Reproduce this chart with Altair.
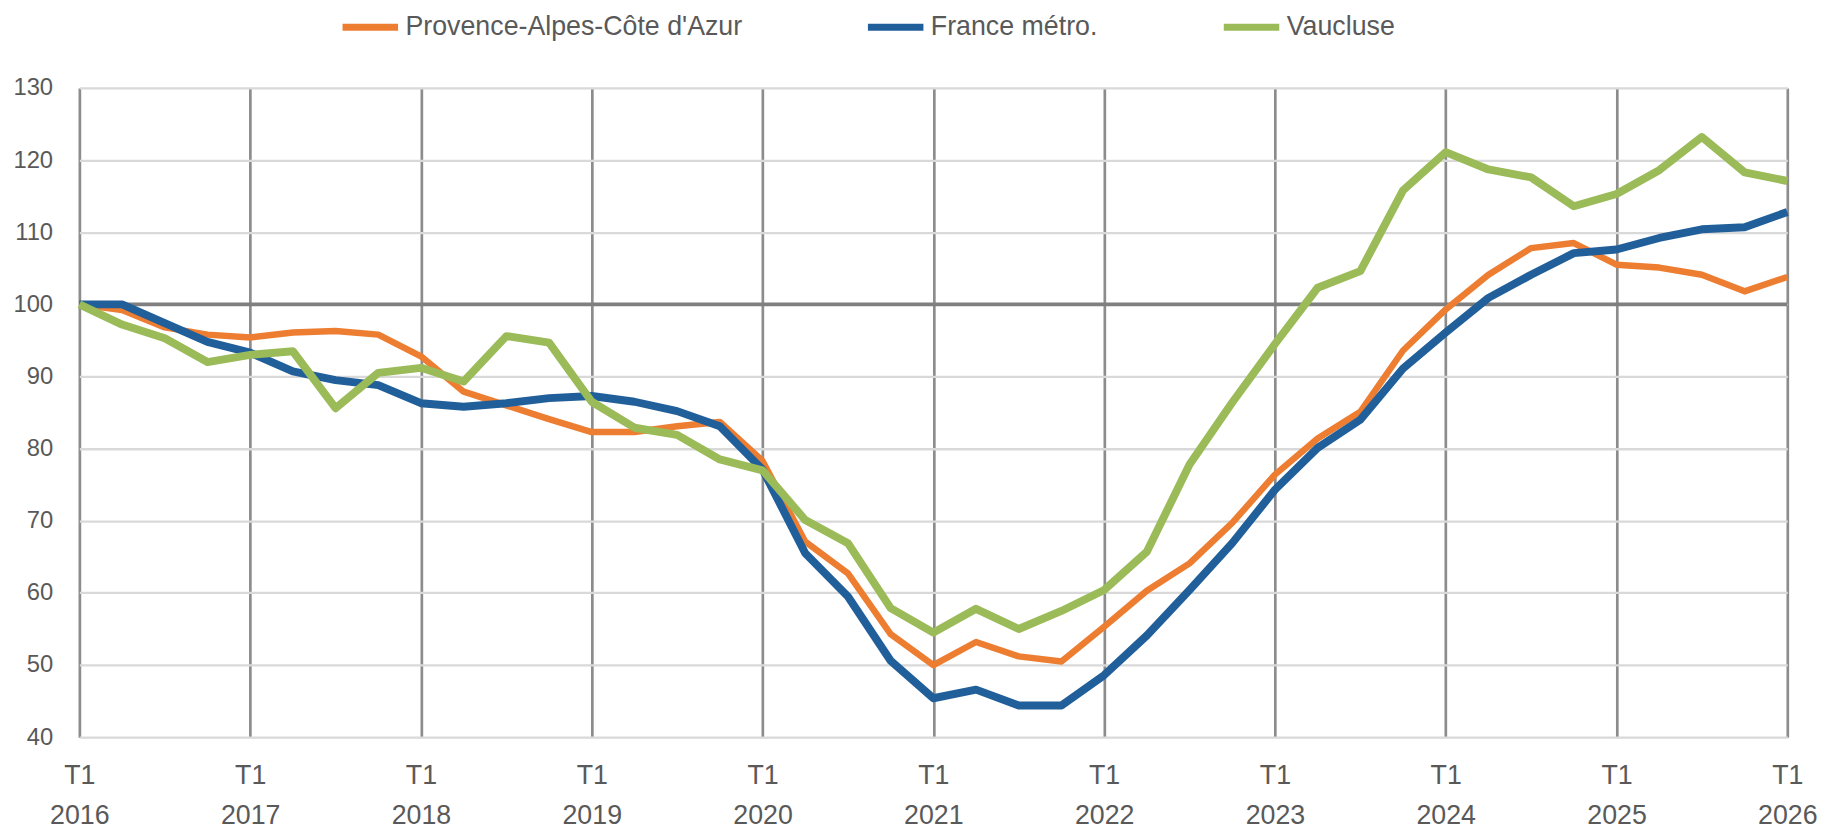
import altair as alt
import pandas as pd

# ---------------- data ----------------
years = list(range(2016, 2027))
quarter_names = ["T1", "T2", "T3", "T4"]
quarters = [f"{q} {y}" for y in years for q in quarter_names][:41]
tick_labels = [f"T1 {y}" for y in years]

paca = [100.0, 99.2, 96.8, 95.8, 95.4, 96.1, 96.3, 95.8,
        92.8, 87.9, 86.0, 84.1, 82.3, 82.3, 83.1, 83.7,
        78.3, 67.1, 62.7, 54.3, 50.0, 53.2, 51.2, 50.5,
        55.3, 60.3, 64.1, 69.7, 76.4, 81.4, 85.1, 93.6,
        99.3, 104.1, 107.8, 108.5, 105.5, 105.1, 104.1, 101.8,
        103.8]
france = [100.0, 100.0, 97.4, 94.8, 93.3, 90.7, 89.5, 88.8,
          86.3, 85.8, 86.3, 87.0, 87.3, 86.5, 85.2, 83.1,
          77.1, 65.5, 59.5, 50.6, 45.4, 46.6, 44.4, 44.4,
          48.6, 54.1, 60.4, 66.9, 74.3, 80.1, 84.0, 91.1,
          96.1, 100.9, 104.1, 107.1, 107.6, 109.2, 110.4, 110.7,
          112.8]
vaucluse = [100.0, 97.2, 95.3, 92.0, 93.0, 93.5, 85.6, 90.5,
            91.2, 89.3, 95.6, 94.7, 86.5, 82.9, 81.9, 78.5,
            77.0, 70.1, 66.9, 57.9, 54.5, 57.8, 55.0, 57.5,
            60.4, 65.7, 77.8, 86.4, 94.5, 102.3, 104.6, 115.8,
            121.1, 118.7, 117.6, 113.6, 115.3, 118.6, 123.2, 118.3,
            117.1]

series_names = ["Provence-Alpes-Côte d'Azur", "France métro.", "Vaucluse"]
series_values = [paca, france, vaucluse]
series_colors = ["#ED7D31", "#215F9A", "#9BBB59"]
series_widths = [6.5, 8, 8]
reference_value = [100]
y_ticks = list(range(40, 131, 10))

rows = []
for name, vals in zip(series_names, series_values):
    for q, v in zip(quarters, vals):
        rows.append({"Trimestre": q, "Série": name, "Indice": v})
df = pd.DataFrame(rows)

FONT = "Liberation Sans"
TEXT = "#595959"

x_enc = alt.X(
    "Trimestre:O",
    sort=quarters,
    scale=alt.Scale(type="point", padding=0, domain=quarters),
    axis=alt.Axis(
        values=tick_labels,
        labelExpr="split(datum.label, ' ')",
        labelAngle=0,
        labelAlign="center",
        labelBaseline="top",
        labelFontSize=27,
        labelLineHeight=40,
        labelPadding=26,
        labelColor=TEXT,
        labelFont=FONT,
        labelOverlap=False,
        grid=True,
        gridColor="#8C8C8C",
        gridWidth=2.7,
        domain=False,
        ticks=False,
        tickSize=0,
        title=None,
    ),
)

y_enc = alt.Y(
    "Indice:Q",
    scale=alt.Scale(domain=[40, 130], nice=False, zero=False),
    axis=alt.Axis(
        values=y_ticks,
        labelFontSize=24,
        labelColor=TEXT,
        labelFont=FONT,
        labelPadding=27,
        grid=True,
        gridColor="#D9D9D9",
        gridWidth=2.3,
        domain=False,
        ticks=False,
        tickSize=0,
        title=None,
    ),
)

color_enc = alt.Color(
    "Série:N",
    scale=alt.Scale(domain=series_names, range=series_colors),
    legend=alt.Legend(
        orient="none",
        legendX=262,
        legendY=-93,
        direction="horizontal",
        title=None,
        symbolType="stroke",
        symbolSize=3136,
        symbolStrokeWidth=7,
        labelFontSize=27,
        labelFont=FONT,
        labelColor=TEXT,
        labelOffset=4,
        labelLimit=0,
        columnPadding=112,
        padding=0,
    ),
)

rule = alt.Chart(pd.DataFrame({"Indice": reference_value})).mark_rule(
    color="#7F7F7F", strokeWidth=4
).encode(y=y_enc)

layers = [rule]
for name, w in zip(series_names, series_widths):
    layers.append(
        alt.Chart(df)
        .transform_filter(alt.datum["Série"] == name)
        .mark_line(strokeWidth=w, strokeJoin="round")
        .encode(x=x_enc, y=y_enc, color=color_enc)
    )

chart = (
    alt.layer(*layers)
    .properties(
        width=1723,
        height=655,
        padding={"left": 72, "top": 77, "right": 35, "bottom": 93},
        autosize=alt.AutoSizeParams(type="none"),
        background="white",
    )
    .configure_view(strokeWidth=0)
)

chart.save("out.html", embed_options={"renderer": "svg", "actions": False})
